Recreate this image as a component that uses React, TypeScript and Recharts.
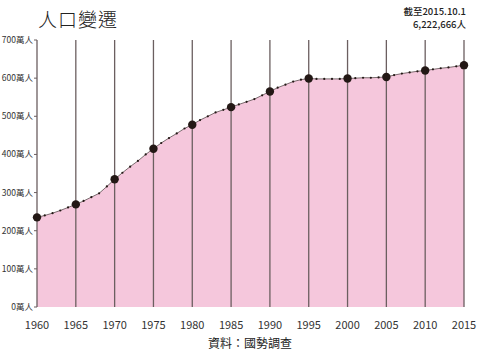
import { Area, ComposedChart, ReferenceLine, XAxis, YAxis } from "recharts";

const years = [
  1960, 1961, 1962, 1963, 1964, 1965, 1966, 1967, 1968, 1969,
  1970, 1971, 1972, 1973, 1974, 1975, 1976, 1977, 1978, 1979,
  1980, 1981, 1982, 1983, 1984, 1985, 1986, 1987, 1988, 1989,
  1990, 1991, 1992, 1993, 1994, 1995, 1996, 1997, 1998, 1999,
  2000, 2001, 2002, 2003, 2004, 2005, 2006, 2007, 2008, 2009,
  2010, 2011, 2012, 2013, 2014, 2015,
];

// 單位：萬人
const population = [
  235, 240, 246, 253, 261, 269, 278, 288, 298, 316,
  335, 352, 368, 383, 400, 415, 430, 443, 455, 468,
  478, 490, 500, 510, 517, 524, 531, 538, 545, 555,
  565, 575, 583, 591, 596, 599, 598, 598, 598, 598,
  599, 600, 601, 601, 602, 603, 608, 612, 615, 618,
  620, 623, 626, 628, 631, 634,
];

const xTicks = [1960, 1965, 1970, 1975, 1980, 1985, 1990, 1995, 2000, 2005, 2010, 2015];
const yTicks = [0, 100, 200, 300, 400, 500, 600, 700];

const FONT = '"Noto Sans CJK TC", "Noto Sans", sans-serif';

const data = years.map((year, i) => ({ year, pop: population[i] }));

function PopDot(props: any) {
  const { cx, cy, payload } = props;
  if (cx == null || cy == null) return null;
  const big = payload.year % 5 === 0;
  return <circle cx={cx} cy={cy} r={big ? 4.2 : 1.1} fill="#231815" stroke="none" />;
}

export default function App() {
  return (
    <div style={{ position: "absolute", left: 0, top: 0, width: 480, height: 351, background: "#fff", fontFamily: FONT }}>
      <div style={{ position: "absolute", left: 38, top: 5, fontSize: 19, fontWeight: 300, color: "#222", letterSpacing: 1 }}>
        人口變遷
      </div>
      <div style={{ position: "absolute", right: 14, top: 5, fontSize: 9.5, lineHeight: "13px", fontWeight: 500, color: "#222", textAlign: "right" }}>
        <div>截至2015.10.1</div>
        <div>6,222,666人</div>
      </div>
      <ComposedChart width={480} height={351} data={data} margin={{ top: 40, right: 16, bottom: 14, left: 0 }}>
        <XAxis
          dataKey="year"
          type="number"
          domain={[1960, 2015]}
          ticks={xTicks}
          tickLine={false}
          axisLine={false}
          tickMargin={8}
          height={30}
          tick={{ fontSize: 11, fill: "#333", fontFamily: FONT }}
        />
        <YAxis
          domain={[0, 700]}
          ticks={yTicks}
          width={37}
          tickSize={3}
          tickMargin={1}
          axisLine={false}
          tickLine={{ stroke: "#6b5f60" }}
          tickFormatter={(v: number) => `${v}萬人`}
          tick={{ fontSize: 8.5, fill: "#333", fontFamily: FONT }}
        />
        <Area
          type="linear"
          dataKey="pop"
          stroke="none"
          fill="#f5c7dc"
          fillOpacity={1}
          dot={false}
          activeDot={false}
          isAnimationActive={false}
        />
        {xTicks.map((t) => (
          <ReferenceLine key={t} x={t} stroke="#6b5f60" strokeWidth={1.3} />
        ))}
        <Area
          type="linear"
          dataKey="pop"
          stroke="#5a4b4e"
          strokeWidth={0.8}
          fill="none"
          dot={<PopDot />}
          activeDot={false}
          isAnimationActive={false}
        />
      </ComposedChart>
      <div style={{ position: "absolute", left: 10, width: 480, top: 334, textAlign: "center", fontSize: 12, color: "#222" }}>
        資料：國勢調查
      </div>
    </div>
  );
}
